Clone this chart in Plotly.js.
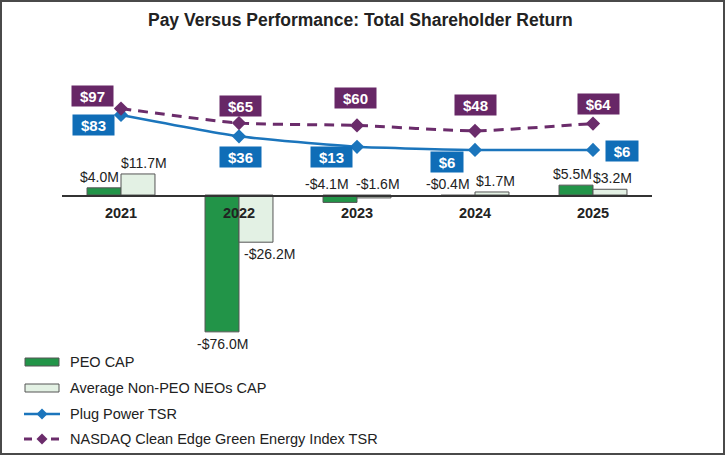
<!DOCTYPE html>
<html><head><meta charset="utf-8">
<script src="https://cdn.plot.ly/plotly-3.0.1.min.js"></script>
<style>
html,body{margin:0;padding:0;background:#fff}
#wrap{position:relative;width:725px;height:455px}
#chart{width:725px;height:455px}
#frame{position:absolute;left:0;top:0;width:725px;height:455px;box-sizing:border-box;border:2px solid #4a4a4a;pointer-events:none}
</style></head><body>
<div id="wrap"><div id="chart"></div><div id="frame"></div></div>
<script>
// ---- data ----
const years = ['2021', '2022', '2023', '2024', '2025'];
const peoCap = [4.0, -76.0, -4.1, -0.4, 5.5];
const neoCap = [11.7, -26.2, -1.6, 1.7, 3.2];
const plugTsr = [83, 36, 13, 6, 6];
const nasdaqTsr = [97, 65, 60, 48, 64];
const seriesNames = ['PEO CAP', 'Average Non-PEO NEOs CAP', 'Plug Power TSR', 'NASDAQ Clean Edge Green Energy Index TSR'];

// ---- label placement (pixels) ----
const peoLabelDx = [-5, 0, -13, -10, -4];
const neoLabelDx = [6, 14, 4, 4, 3];
const plugLabelShift = [[-28, -10], [1, -21], [-26, -10], [-28, -12], [29, -1]];
const nasdaqLabelShift = [[-29, 13], [1, 17], [-2, 27], [0, 26], [5, 20]];

// ---- styles ----
const FONT = 'Liberation Sans, Arial, Helvetica, sans-serif';
const C_PEO = '#229448', C_NEO = '#E3F1E4', C_BORDER = '#555555';
const C_PLUG = '#1B75BC', C_PLUG_BOX = '#0F6DB7';
const C_NAS = '#6B2C6B', C_NAS_BOX = '#672766';
const TXT = '#222222';

const W = 725, H = 455;
const M = {l: 62, r: 73, t: 60, b: 110};
const PW = W - M.l - M.r, PH = H - M.t - M.b;
const yRange = [-83.3, 75];
const y2Range = [-422.6, 203.7];
const zeroFrac = (0 - yRange[0]) / (yRange[1] - yRange[0]);
const bargap = 0.424;
const barHalf = (1 - bargap) / 4;

const fmtM = v => (v < 0 ? '-$' : '$') + Math.abs(v).toFixed(1) + 'M';
const fmtD = v => '$' + v;
const px = x => (x - M.l) / PW;
const py = y => (H - M.b - y) / PH;

const traces = [
  {type: 'bar', name: seriesNames[0], x: years, y: peoCap, yaxis: 'y',
   marker: {color: C_PEO, line: {color: C_BORDER, width: 1}}, showlegend: false, hoverinfo: 'skip'},
  {type: 'bar', name: seriesNames[1], x: years, y: neoCap, yaxis: 'y',
   marker: {color: C_NEO, line: {color: C_BORDER, width: 1}}, showlegend: false, hoverinfo: 'skip'},
  {type: 'scatter', mode: 'lines+markers', name: seriesNames[2], x: years, y: plugTsr, yaxis: 'y2',
   line: {color: C_PLUG, width: 2.5, shape: 'spline', smoothing: 0.5},
   marker: {symbol: 'diamond', size: 11, color: C_PLUG}, showlegend: false, hoverinfo: 'skip'},
  {type: 'scatter', mode: 'lines+markers', name: seriesNames[3], x: years, y: nasdaqTsr, yaxis: 'y2',
   line: {color: C_NAS, width: 3, dash: '10px,7px', shape: 'spline', smoothing: 0.5},
   marker: {symbol: 'diamond', size: 11, color: C_NAS}, showlegend: false, hoverinfo: 'skip'}
];

const annotations = [];
function barLabel(vals, off, dx) {
  vals.forEach((v, i) => {
    const above = v > -10;
    annotations.push({
      x: i + off, y: above ? Math.max(v, 0) : v, xref: 'x', yref: 'y',
      text: fmtM(v), showarrow: false, xanchor: 'center', yanchor: 'middle',
      xshift: dx[i], yshift: above ? 11 : -12,
      font: {family: FONT, size: 14, color: TXT}
    });
  });
}
barLabel(peoCap, -barHalf, peoLabelDx);
barLabel(neoCap, barHalf, neoLabelDx);

function tsrLabel(vals, shifts, bg) {
  vals.forEach((v, i) => {
    const t = fmtD(v);
    annotations.push({
      x: i, y: v, xref: 'x', yref: 'y2', text: '<b>' + t + '</b>', showarrow: false,
      xanchor: 'center', yanchor: 'middle', xshift: shifts[i][0], yshift: shifts[i][1],
      bgcolor: bg, borderpad: 0, width: 14 + 9 * t.length, height: 20,
      font: {family: FONT, size: 15, color: '#ffffff'}
    });
  });
}
tsrLabel(plugTsr, plugLabelShift, C_PLUG_BOX);
tsrLabel(nasdaqTsr, nasdaqLabelShift, C_NAS_BOX);

// ---- legend (drawn manually) ----
const legRows = [362, 388, 414, 439];
const shapes = [];
function diamond(cx, cy, r) {
  const x0 = px(cx - r), x1 = px(cx + r), xm = px(cx);
  const y0 = py(cy - r), y1 = py(cy + r), ym = py(cy);
  return `M${xm},${y0} L${x1},${ym} L${xm},${y1} L${x0},${ym} Z`;
}
[[C_PEO, 0], [C_NEO, 1]].forEach(([c, k]) => {
  shapes.push({type: 'rect', xref: 'paper', yref: 'paper',
    x0: px(25), x1: px(59), y0: py(legRows[k] - 4), y1: py(legRows[k] + 4),
    fillcolor: c, line: {color: C_BORDER, width: 1}});
});
shapes.push({type: 'line', xref: 'paper', yref: 'paper', x0: px(24), x1: px(60),
  y0: py(legRows[2]), y1: py(legRows[2]), line: {color: C_PLUG, width: 2.5}});
shapes.push({type: 'path', xref: 'paper', yref: 'paper', path: diamond(42, legRows[2], 5.5),
  fillcolor: C_PLUG, line: {color: C_PLUG, width: 0}});
shapes.push({type: 'line', xref: 'paper', yref: 'paper', x0: px(24), x1: px(32),
  y0: py(legRows[3]), y1: py(legRows[3]), line: {color: C_NAS, width: 3}});
shapes.push({type: 'line', xref: 'paper', yref: 'paper', x0: px(51), x1: px(59),
  y0: py(legRows[3]), y1: py(legRows[3]), line: {color: C_NAS, width: 3}});
shapes.push({type: 'path', xref: 'paper', yref: 'paper', path: diamond(42, legRows[3], 5.5),
  fillcolor: C_NAS, line: {color: C_NAS, width: 0}});
seriesNames.forEach((n, k) => {
  annotations.push({xref: 'paper', yref: 'paper', x: px(68), y: py(legRows[k]),
    xanchor: 'left', yanchor: 'middle', text: n, showarrow: false,
    font: {family: FONT, size: 14.5, color: TXT}});
});

const layout = {
  width: W, height: H, margin: M,
  paper_bgcolor: '#ffffff', plot_bgcolor: 'rgba(0,0,0,0)',
  font: {family: FONT, color: TXT},
  title: {text: '<b>Pay Versus Performance: Total Shareholder Return</b>',
    xref: 'container', yref: 'container', x: 0.497, y: 1 - 20 / H, yanchor: 'middle', xanchor: 'center',
    font: {family: FONT, size: 17.5, color: TXT}},
  showlegend: false,
  barmode: 'group', bargap: bargap, bargroupgap: 0,
  xaxis: {type: 'category', range: [-0.5, 4.5], anchor: 'free', position: zeroFrac,
    showline: true, linecolor: '#333333', linewidth: 1.5, ticks: '', showgrid: false, zeroline: false,
    tickfont: {family: FONT, size: 14.5, color: TXT}, ticklabelstandoff: 4,
    tickvals: years, ticktext: years.map(y => '<b>' + y + '</b>'), fixedrange: true},
  yaxis: {range: yRange, visible: false, fixedrange: true},
  yaxis2: {range: y2Range, overlaying: 'y', side: 'right', visible: false, fixedrange: true},
  annotations: annotations, shapes: shapes
};

Plotly.newPlot('chart', traces, layout, {staticPlot: true, displayModeBar: false});
</script>
</body></html>
